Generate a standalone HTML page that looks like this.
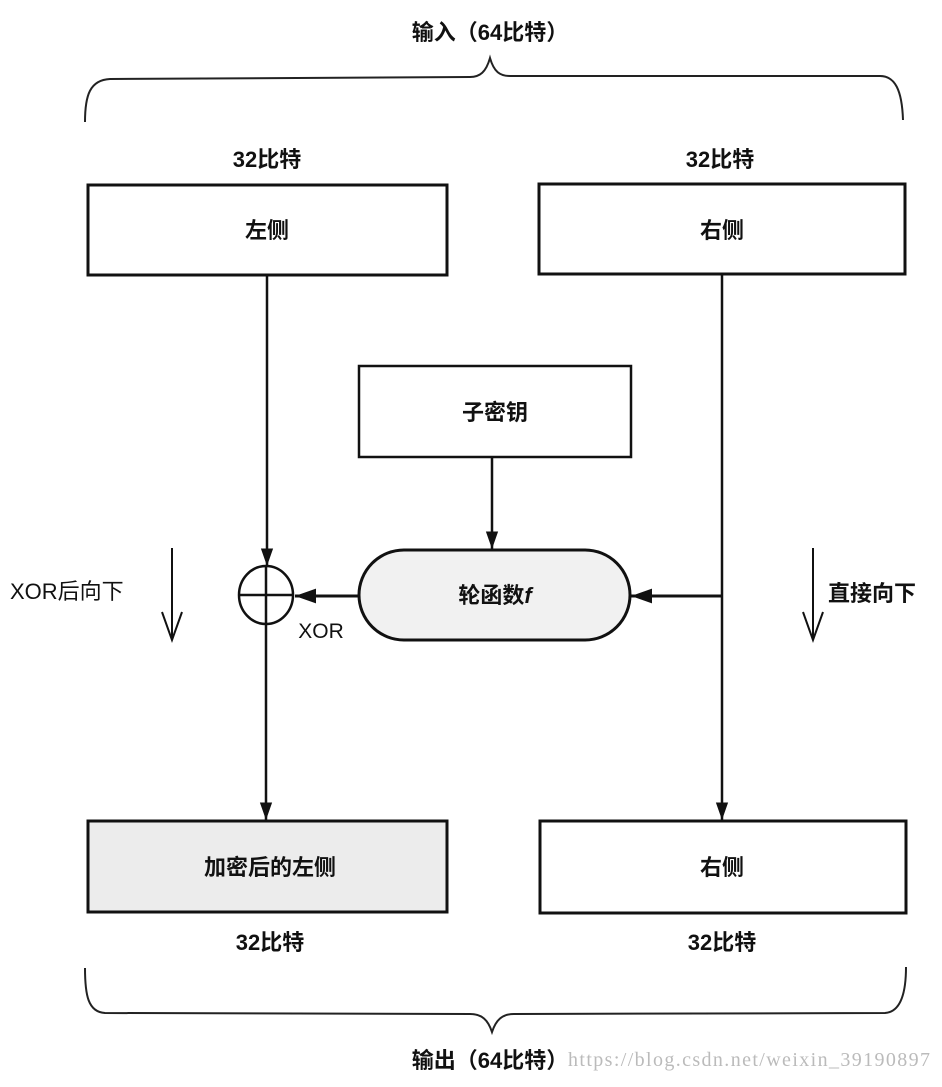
<!DOCTYPE html>
<html><head><meta charset="utf-8"><style>
body{margin:0;background:#fff;}
svg text{font-family:"Liberation Sans","Noto Sans CJK SC",sans-serif;fill:#111;}
</style></head><body>
<svg width="942" height="1082" viewBox="0 0 942 1082" xmlns="http://www.w3.org/2000/svg">
<defs>
<marker id="a" viewBox="0 0 10 10" refX="10" refY="5" markerWidth="7" markerHeight="7" orient="auto"><path d="M0,1.5 L10,5 L0,8.5 z" fill="#111"/></marker>
</defs>
<text x="490" y="40" font-size="22" text-anchor="middle" font-weight="bold">输入（64比特）</text>
<path d="M85,122 C85,95 90,80 110,79 L470,77 C480,77 486,72 490,58 C494,72 500,76 510,76 L880,76 C895,76 902,90 903,120" fill="none" stroke="#222" stroke-width="2"/>
<text x="267" y="167" font-size="22" text-anchor="middle" font-weight="bold">32比特</text>
<text x="720" y="167" font-size="22" text-anchor="middle" font-weight="bold">32比特</text>
<rect x="88" y="185" width="359" height="90" fill="#fff" stroke="#111" stroke-width="3"/>
<text x="267" y="238" font-size="22" text-anchor="middle" font-weight="bold">左侧</text>
<rect x="539" y="184" width="366" height="90" fill="#fff" stroke="#111" stroke-width="3"/>
<text x="722" y="238" font-size="22" text-anchor="middle" font-weight="bold">右侧</text>
<rect x="359" y="366" width="272" height="91" fill="#fff" stroke="#111" stroke-width="2.5"/>
<text x="495" y="420" font-size="22" text-anchor="middle" font-weight="bold">子密钥</text>
<line x1="492" y1="457" x2="492" y2="549" stroke="#111" stroke-width="2.5" marker-end="url(#a)"/>
<rect x="359" y="550" width="271" height="90" rx="45" fill="#f1f1f1" stroke="#111" stroke-width="3"/>
<text x="495" y="603" font-size="22" text-anchor="middle" font-weight="bold">轮函数<tspan font-style="italic">f</tspan></text>
<line x1="267" y1="275" x2="267" y2="566" stroke="#111" stroke-width="2.5" marker-end="url(#a)"/>
<ellipse cx="266" cy="595" rx="27" ry="29" fill="#fff" stroke="#111" stroke-width="2.5"/>
<line x1="239" y1="595" x2="293" y2="595" stroke="#111" stroke-width="2.5"/>
<line x1="266" y1="566" x2="266" y2="820" stroke="#111" stroke-width="2.5" marker-end="url(#a)"/>
<line x1="359" y1="596" x2="295" y2="596" stroke="#111" stroke-width="3" marker-end="url(#a)"/>
<text x="321" y="638" font-size="21" text-anchor="middle">XOR</text>
<line x1="722" y1="275" x2="722" y2="820" stroke="#111" stroke-width="2.5" marker-end="url(#a)"/>
<line x1="722" y1="596" x2="631" y2="596" stroke="#111" stroke-width="3" marker-end="url(#a)"/>
<text x="10" y="599" font-size="22">XOR后向下</text>
<path d="M172,548 V638 M162,612 L172,640 L182,612" fill="none" stroke="#111" stroke-width="2"/>
<text x="828" y="601" font-size="22" font-weight="bold">直接向下</text>
<path d="M813,548 V638 M803,612 L813,640 L823,612" fill="none" stroke="#111" stroke-width="2"/>
<rect x="88" y="821" width="359" height="91" fill="#ececec" stroke="#111" stroke-width="3"/>
<text x="270" y="875" font-size="22" text-anchor="middle" font-weight="bold">加密后的左侧</text>
<rect x="540" y="821" width="366" height="92" fill="#fff" stroke="#111" stroke-width="3"/>
<text x="722" y="875" font-size="22" text-anchor="middle" font-weight="bold">右侧</text>
<text x="270" y="950" font-size="22" text-anchor="middle" font-weight="bold">32比特</text>
<text x="722" y="950" font-size="22" text-anchor="middle" font-weight="bold">32比特</text>
<path d="M85,968 C85,995 88,1012 105,1013 L470,1014 C482,1014 488,1020 492,1032 C496,1020 502,1014 514,1014 L885,1013 C900,1012 906,995 906,967" fill="none" stroke="#222" stroke-width="2"/>
<text x="490" y="1068" font-size="22" text-anchor="middle" font-weight="bold">输出（64比特）</text>
<text x="568" y="1066" font-size="20" textLength="362" style="fill:#bbb;font-family:'Liberation Serif',serif">https://blog.csdn.net/weixin_39190897</text>
</svg>
</body></html>
